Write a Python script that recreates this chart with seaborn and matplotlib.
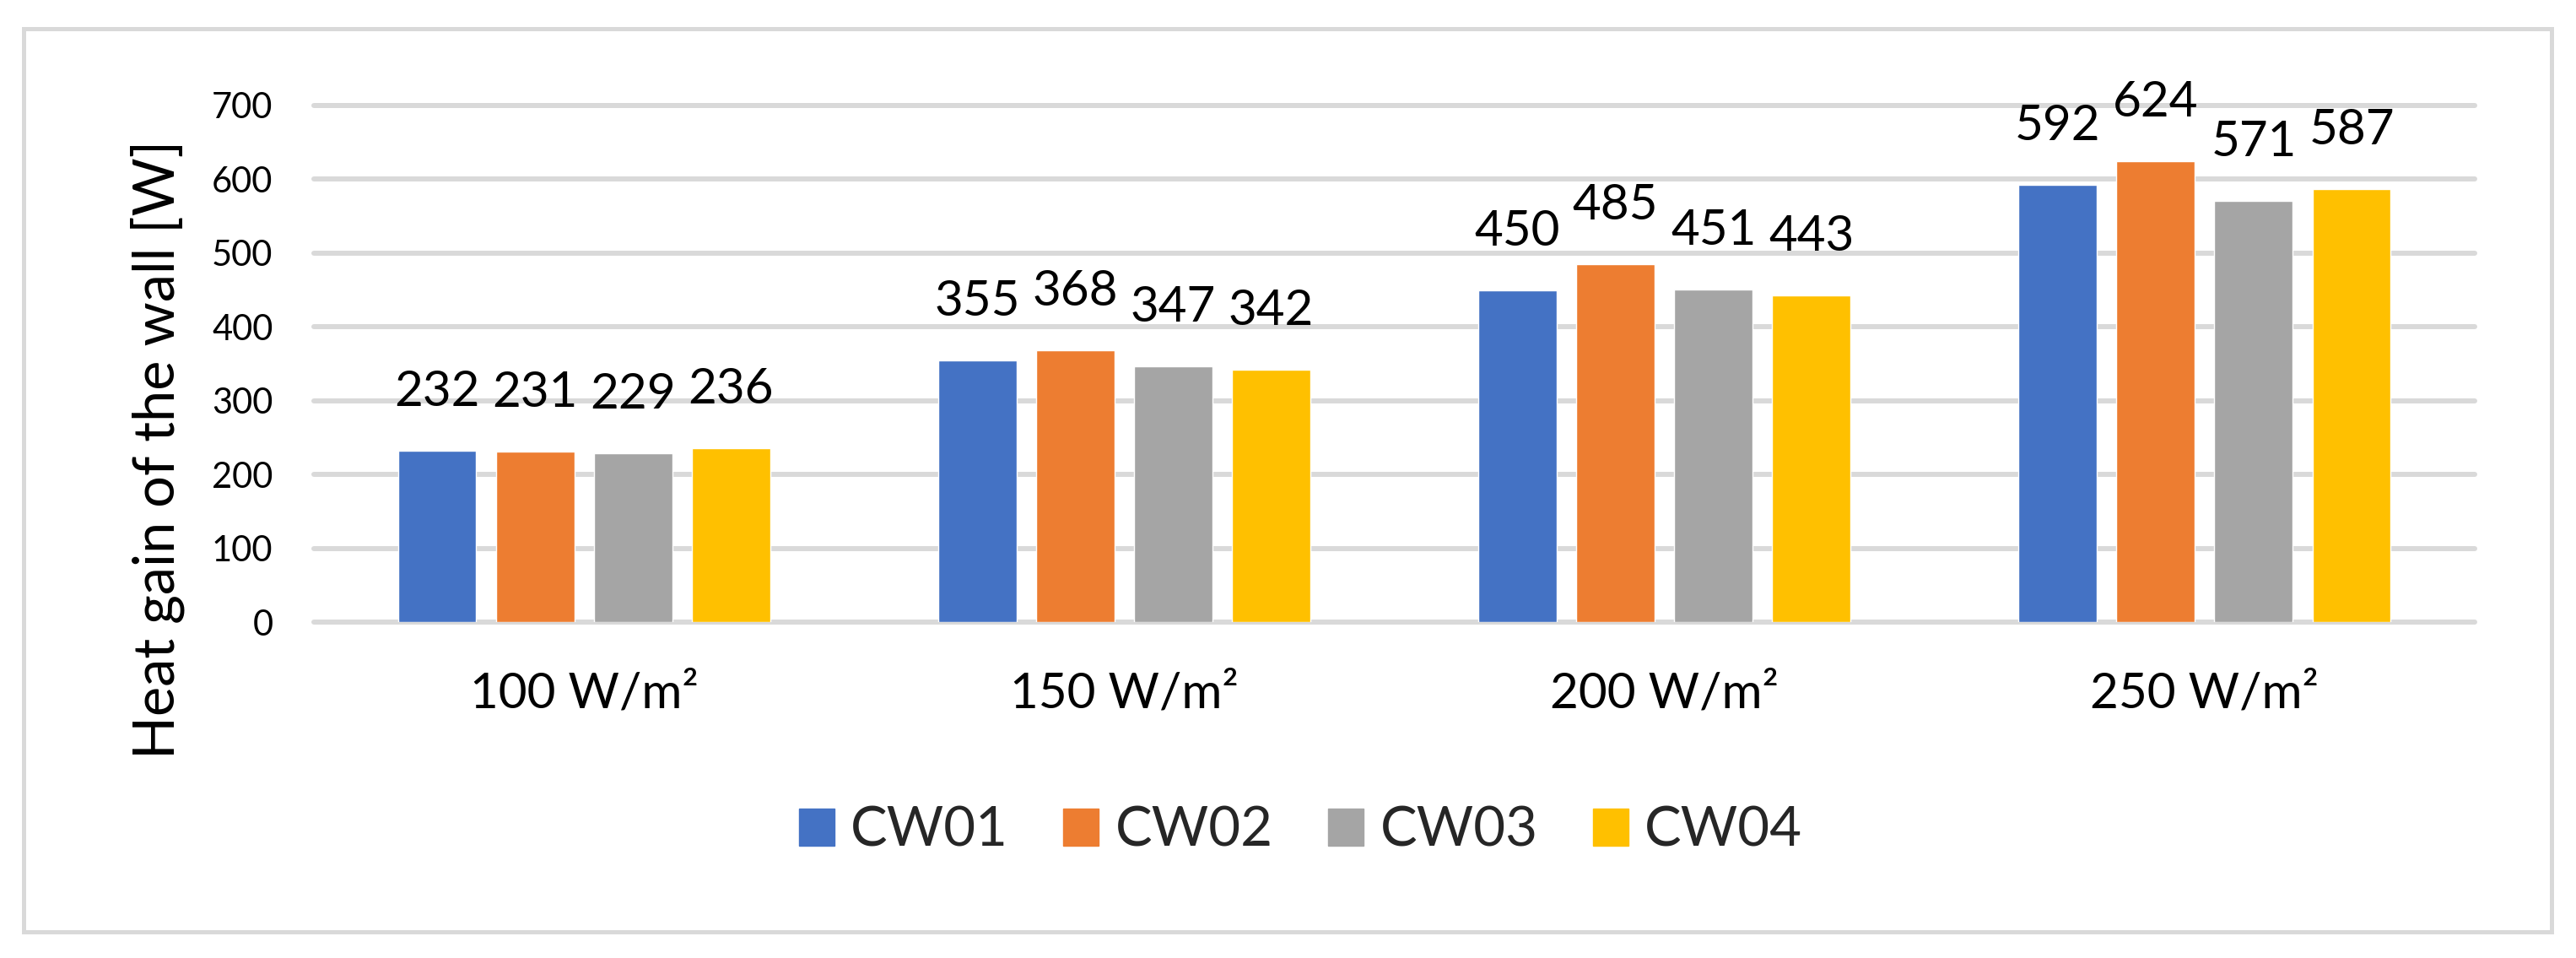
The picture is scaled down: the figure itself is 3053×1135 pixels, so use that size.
import pandas as pd
import matplotlib.pyplot as plt
import seaborn as sns
from matplotlib.patches import Rectangle

# data
loads = ['100 W/m²', '150 W/m²', '200 W/m²', '250 W/m²']
walls = ['CW01', 'CW02', 'CW03', 'CW04']
cw01 = [232, 355, 450, 592]
cw02 = [231, 368, 485, 624]
cw03 = [229, 347, 451, 571]
cw04 = [236, 342, 443, 587]
y_ticks = [0, 100, 200, 300, 400, 500, 600, 700]

colors = ['#4472C4', '#ED7D31', '#A5A5A5', '#FFC000']
grid_grey = '#D9D9D9'

rows = []
for wall, vals in zip(walls, [cw01, cw02, cw03, cw04]):
    for load, v in zip(loads, vals):
        rows.append({'load': load, 'wall': wall, 'heat': v})
df = pd.DataFrame(rows)

sns.set_theme(style='white')
plt.rcParams['font.family'] = ['Lato', 'DejaVu Sans']

fig = plt.figure(figsize=(30.53, 11.35), dpi=100)
ax = fig.add_axes([0.12185, 0.35066, 0.83885, 0.53921])

sns.barplot(data=df, x='load', y='heat', hue='wall', order=loads, hue_order=walls,
            palette=colors, width=0.725, gap=0.2, errorbar=None, saturation=1,
            ax=ax, legend=False)

for cont in ax.containers:
    ax.bar_label(cont, fmt='%d', padding=31, fontsize=42, color='black')

ax.set_xlim(-0.5, 3.5)
ax.set_ylim(0, 700)
ax.set_yticks(y_ticks)
ax.yaxis.grid(True, color=grid_grey, linewidth=4.3)
ax.set_axisbelow(True)
for gl in ax.get_ygridlines():
    gl.set_clip_on(False)
sns.despine(ax=ax, left=True, bottom=True)
ax.tick_params(axis='y', length=0, pad=35, labelsize=30, labelcolor='black')
ax.tick_params(axis='x', length=0, pad=42, labelsize=42, labelcolor='black')
ax.set_xlabel('')
ax.set_ylabel('')

fig.text(0.0612, 1 - 532 / 1135, 'Heat gain of the wall [W]', rotation=90,
         ha='center', va='center', fontsize=48, color='black')

# legend
handles = [Rectangle((0, 0), 1, 1, color=c) for c in colors]
fig.legend(handles, walls, loc='center', bbox_to_anchor=(0.5049, 0.1326), ncol=4,
           frameon=False, fontsize=47, handlelength=0.64, handleheight=0.66,
           handletextpad=0.3, columnspacing=1.0)

# outer frame
fig.add_artist(Rectangle((28 / 3053, 1 - 1104 / 1135), (3024 - 28) / 3053, (1104 - 34) / 1135,
                         transform=fig.transFigure, fill=False, edgecolor=grid_grey, linewidth=3.6))

fig.savefig('out.png', dpi=100, facecolor='white')
